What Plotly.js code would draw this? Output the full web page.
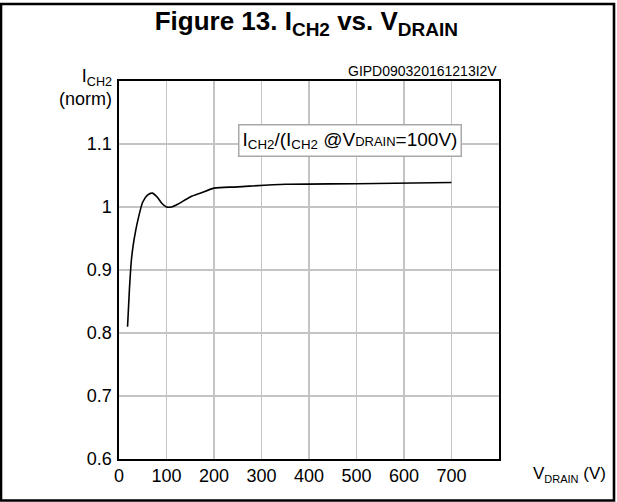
<!DOCTYPE html>
<html>
<head>
<meta charset="utf-8">
<script src="https://cdn.plot.ly/plotly-3.0.1.min.js"></script>
<style>
html,body{margin:0;padding:0;background:#fff;}
#chart{width:617px;height:502px;}
</style>
</head>
<body>
<div id="chart"></div>
<script>
// Data
const vDrain = [18, 22, 26, 30, 35, 40, 50, 60, 70, 80, 90, 100, 110, 125, 150, 175, 200, 250, 350, 500, 700];
const iCh2   = [0.81, 0.87, 0.915, 0.94, 0.962, 0.98, 1.008, 1.019, 1.022, 1.016, 1.006, 1.0, 1.0, 1.005, 1.016, 1.023, 1.030, 1.032, 1.036, 1.037, 1.039];
const xTicks = [0, 100, 200, 300, 400, 500, 600, 700];
const yTicks = [0.6, 0.7, 0.8, 0.9, 1.0, 1.1];
const yTickLabels = ['0.6', '0.7', '0.8', '0.9', '1', '1.1'];

const FONT = 'Liberation Sans, Arial, sans-serif';

const trace = {
  x: vDrain,
  y: iCh2,
  type: 'scatter',
  mode: 'lines',
  line: {color: '#000', width: 1.6, shape: 'spline', smoothing: 0.8},
  hoverinfo: 'skip'
};

const layout = {
  width: 617,
  height: 502,
  margin: {l: 119, r: 118, t: 81, b: 43},
  paper_bgcolor: '#fff',
  plot_bgcolor: '#fff',
  showlegend: false,
  font: {family: FONT, color: '#000', size: 18},
  title: {
    text: '<b>Figure 13. I<sub><span style="font-size:19px">CH2</span></sub> vs. V<sub><span style="font-size:19px">DRAIN</span></sub></b>',
    font: {family: FONT, size: 26, color: '#000'},
    x: 0.493, xref: 'paper', xanchor: 'center',
    y: 0.958, yref: 'container', yanchor: 'middle'
  },
  xaxis: {
    range: [0, 800],
    tickvals: xTicks,
    ticktext: xTicks.map(String),
    ticks: '',
    showgrid: true,
    gridcolor: '#c4c4c4',
    gridwidth: 1.2,
    zeroline: false,
    showline: true,
    linecolor: '#000',
    linewidth: 1.6,
    mirror: true,
    tickfont: {family: FONT, size: 18, color: '#000'},
    ticklabelstandoff: 0
  },
  yaxis: {
    range: [0.6, 1.2],
    tickvals: yTicks,
    ticktext: yTickLabels,
    ticks: '',
    showgrid: true,
    gridcolor: '#c4c4c4',
    gridwidth: 1.2,
    zeroline: false,
    showline: true,
    linecolor: '#000',
    linewidth: 1.6,
    mirror: true,
    tickfont: {family: FONT, size: 18, color: '#000'},
    ticklabelstandoff: 2
  },
  annotations: [
    {
      text: 'I<sub>CH2</sub>/(I<sub>CH2</sub> @V<span style="font-size:13px">DRAIN</span>=100V)',
      x: 486, y: 1.105, xref: 'x', yref: 'y',
      xanchor: 'center', yanchor: 'middle',
      showarrow: false,
      font: {family: FONT, size: 19, color: '#000'},
      bgcolor: '#fff',
      bordercolor: '#a8a8a8',
      borderwidth: 1.5,
      borderpad: 3
    },
    {
      text: 'GIPD090320161213I2V',
      x: 1.0, y: 1.0, xref: 'paper', yref: 'paper',
      xanchor: 'right', yanchor: 'bottom',
      showarrow: false,
      font: {family: FONT, size: 14, color: '#000'}
    },
    {
      text: 'I<sub>CH2</sub><br>(norm)',
      x: -0.012, y: 1.045, xref: 'paper', yref: 'paper',
      xanchor: 'right', yanchor: 'top',
      align: 'right',
      showarrow: false,
      font: {family: FONT, size: 18, color: '#000'}
    },
    {
      text: 'V<sub><span style="font-size:11px">DRAIN</span></sub> (V)',
      x: 1.185, y: -0.042, xref: 'paper', yref: 'paper',
      xanchor: 'center', yanchor: 'middle',
      showarrow: false,
      font: {family: FONT, size: 17, color: '#000'}
    }
  ],
  shapes: [
    {
      type: 'rect', xref: 'paper', yref: 'paper',
      x0: (1 - 119) / 380, x1: (614 - 119) / 380,
      y0: (459 - 500.5) / 378, y1: (459 - 4) / 378,
      line: {color: '#000', width: 2.6},
      fillcolor: 'rgba(0,0,0,0)',
      layer: 'below'
    }
  ]
};

Plotly.newPlot('chart', [trace], layout, {staticPlot: true, displayModeBar: false});
</script>
</body>
</html>
